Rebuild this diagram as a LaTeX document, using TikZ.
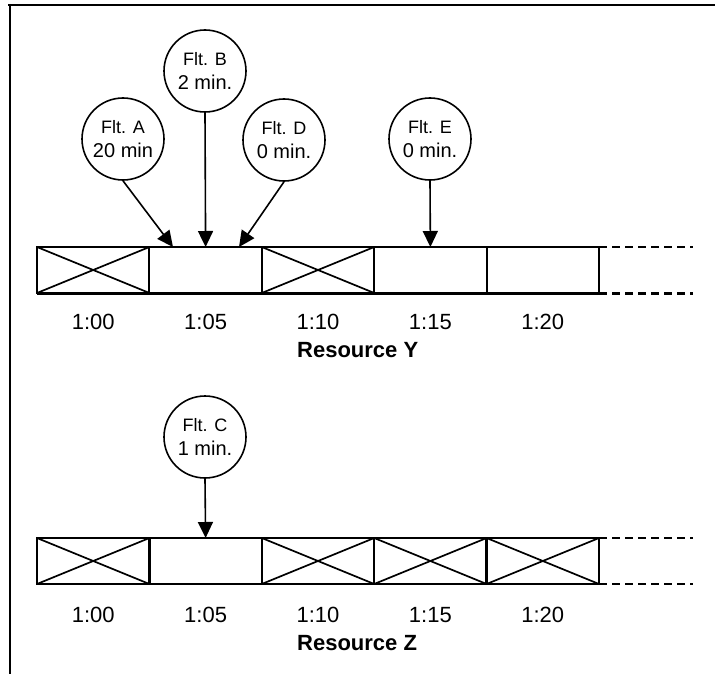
\documentclass[tikz,border=0pt]{standalone}
\usepackage{fontspec}
\setmainfont{Liberation Sans}
\usetikzlibrary{arrows.meta}
\tikzset{
  flt/.style={circle, draw, line width=1.6pt, minimum size=82pt, inner sep=0pt, align=center, font=\fontsize{20}{24}\selectfont},
  cell/.style={rectangle, draw, line width=2pt, minimum width=112.4pt, minimum height=46pt, inner sep=0pt, outer sep=0pt},
  cross/.style={line width=1.7pt},
  tlabel/.style={font=\fontsize{22}{26}\selectfont, inner sep=0pt},
  reslabel/.style={font=\bfseries\fontsize{22}{26}\selectfont, inner sep=0pt, anchor=west},
  arr/.style={line width=1.6pt, -{Triangle[length=16pt,width=15pt]}},
  ext/.style={dashed, dash pattern=on 8pt off 5pt}
}
\newcommand{\fl}[2]{{\fontsize{18}{24}\selectfont #1}\\#2}
\begin{document}
\begin{tikzpicture}[x=1pt,y=-1pt]
\useasboundingbox (0,0) rectangle (715,674);
% frame
\draw[line width=2.8pt] (8,5) -- (715,5);
\draw[line width=1.4pt] (10,4) -- (10,674);

% Resource Y cells
\foreach \i in {1,...,5} {
  \node[cell] (y\i) at ({37+112.4*(\i-0.5)},270) {};
}
\draw[line width=3pt] (y1.south west) -- (y5.south east);
\foreach \i in {1,3} {
  \draw[cross] (y\i.north west) -- (y\i.south east);
  \draw[cross] (y\i.south west) -- (y\i.north east);
}
\coordinate (yde) at (693,247);
\coordinate (ydf) at (693,293);
\draw[ext, line width=1.3pt] (y5.north east) -- (yde);
\draw[ext, line width=3pt] (y5.south east) -- (ydf);

\node[tlabel] (ly1) at (y1.center |- 0,322) {1:00};
\node[tlabel] (ly2) at (y2.center |- 0,322) {1:05};
\node[tlabel] (ly3) at (y3.center |- 0,322) {1:10};
\node[tlabel] (ly4) at (y4.center |- 0,322) {1:15};
\node[tlabel] (ly5) at (y5.center |- 0,322) {1:20};
\node[reslabel] (ry) at (297,350) {Resource Y};

% flights on Y
\node[flt] (A) at (123,139) {\fl{Flt. A}{20 min}};
\node[flt] (B) at (205,71) {\fl{Flt. B}{2 min.}};
\node[flt] (D) at (284,140) {\fl{Flt. D}{0 min.}};
\node[flt] (E) at (430,139) {\fl{Flt. E}{0 min.}};
\coordinate (ta) at (173,247);
\coordinate (td) at (239,247);
\draw[arr] (A.south) -- (ta);
\draw[arr] (B.south) -- (y2.north);
\draw[arr] (D.south) -- (td);
\draw[arr] (E.south) -- (y4.north);

% Resource Z cells
\foreach \i in {1,...,5} {
  \node[cell, line width=2.4pt] (z\i) at ({37+112.4*(\i-0.5)},561) {};
}
\foreach \i in {1,3,4,5} {
  \draw[cross] (z\i.north west) -- (z\i.south east);
  \draw[cross] (z\i.south west) -- (z\i.north east);
}
\coordinate (zde) at (693,538);
\coordinate (zdf) at (693,584);
\draw[ext, line width=2.4pt] (z5.north east) -- (zde);
\draw[ext, line width=2.4pt] (z5.south east) -- (zdf);

\node[tlabel] (lz1) at (z1.center |- 0,615) {1:00};
\node[tlabel] (lz2) at (z2.center |- 0,615) {1:05};
\node[tlabel] (lz3) at (z3.center |- 0,615) {1:10};
\node[tlabel] (lz4) at (z4.center |- 0,615) {1:15};
\node[tlabel] (lz5) at (z5.center |- 0,615) {1:20};
\node[reslabel] (rz) at (297,643) {Resource Z};

\node[flt] (C) at (205,437) {\fl{Flt. C}{1 min.}};
\draw[arr] (C.south) -- (z2.north);
\end{tikzpicture}
\end{document}
